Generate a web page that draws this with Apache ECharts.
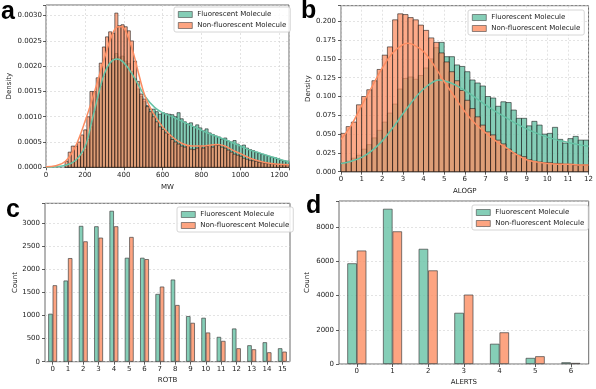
<!DOCTYPE html>
<html><head><meta charset="utf-8">
<script src="https://cdn.jsdelivr.net/npm/echarts@6/dist/echarts.min.js"></script>
<style>html,body{margin:0;padding:0;background:#fff}#c{width:596px;height:389px}</style>
</head><body><div id="c"></div>
<script>
const seriesNames = ['Fluorescent Molecule', 'Non-fluorescent Molecule'];

// Panel a: MW histogram (density)
const mwEdges = [98,114,130,146,162,178,194,210,226,242,258,274,290,306,322,338,354,370,386,402,418,434,450,466,482,498,514,530,546,562,578,594,610,626,642,658,674,690,706,722,738,754,770,786,802,818,834,850,866,882,898,914,930,946,962,978,994,1010,1026,1042,1058,1074,1090,1106,1122,1138,1154,1170,1186,1202,1218,1234,1250];
const mwFluor = [0.00005,0.00008,0.0001,0.00012,0.00015,0.00025,0.00035,0.00055,0.0008,0.0011,0.00135,0.0016,0.0018,0.00195,0.00205,0.00215,0.00225,0.00218,0.0022,0.0021,0.00205,0.0019,0.00175,0.00155,0.0014,0.0013,0.00122,0.00115,0.00115,0.0011,0.00105,0.00108,0.00106,0.00105,0.00104,0.001,0.00108,0.00096,0.0009,0.00086,0.00088,0.0008,0.00084,0.00078,0.00072,0.00076,0.00068,0.00065,0.00062,0.0006,0.00056,0.00058,0.00052,0.0005,0.00053,0.00046,0.00042,0.00044,0.00038,0.00035,0.00033,0.0003,0.00028,0.00026,0.00024,0.00022,0.0002,0.00019,0.00017,0.00014,0.00013,0.00012];
const mwNonFluor = [0.00012,0.0003,0.00042,0.00042,0.0005,0.00064,0.00074,0.001,0.0015,0.0015,0.00177,0.00206,0.00238,0.00258,0.00268,0.00265,0.00305,0.0028,0.00282,0.00278,0.0027,0.0025,0.0021,0.0017,0.00145,0.00135,0.0012,0.0011,0.001,0.0009,0.0008,0.00075,0.00068,0.00065,0.00055,0.0005,0.00046,0.00042,0.0004,0.00043,0.00036,0.00035,0.00038,0.00042,0.00038,0.00042,0.00043,0.0004,0.00044,0.00043,0.0004,0.00038,0.00034,0.0003,0.00026,0.00024,0.00022,0.00018,0.00016,0.00014,0.00013,0.00012,0.0001,0.00009,0.00008,0.00007,0.00007,0.00006,0.00006,0.00005,0.00005,0.00005];
const mwKdeFluorX = [0,50,100,150,200,235,270,300,330,365,400,450,510,560,600,650,700,750,800,850,900,950,1000,1050,1100,1150,1200,1250];
const mwKdeFluorY = [0,0.00001,0.00004,0.00013,0.0004,0.0009,0.00145,0.00185,0.00207,0.00214,0.00207,0.0018,0.0014,0.00118,0.00108,0.001,0.00091,0.00082,0.00073,0.00065,0.00058,0.0005,0.00042,0.00034,0.00028,0.00022,0.00016,0.00011];
const mwKdeNonX = [0,50,100,150,200,250,300,340,370,390,420,450,480,510,550,600,650,700,750,800,850,880,920,960,1000,1050,1100,1150,1200,1250];
const mwKdeNonY = [0.00001,0.00003,0.00012,0.0004,0.0009,0.0015,0.00215,0.00262,0.00278,0.00278,0.0026,0.00225,0.0018,0.0014,0.00108,0.0008,0.0006,0.00047,0.00042,0.00042,0.00044,0.00045,0.00042,0.00034,0.00027,0.00018,0.00012,0.00008,0.00006,0.00005];

// Panel b: ALOGP histogram (density)
const alogpEdges = [0,0.25,0.5,0.75,1,1.25,1.5,1.75,2,2.25,2.5,2.75,3,3.25,3.5,3.75,4,4.25,4.5,4.75,5,5.25,5.5,5.75,6,6.25,6.5,6.75,7,7.25,7.5,7.75,8,8.25,8.5,8.75,9,9.25,9.5,9.75,10,10.25,10.5,10.75,11,11.25,11.5,11.75,12];
const alogpFluor = [0.012,0.014,0.018,0.022,0.03,0.036,0.045,0.055,0.066,0.078,0.09,0.11,0.124,0.126,0.123,0.128,0.138,0.15,0.165,0.172,0.153,0.153,0.142,0.14,0.133,0.122,0.118,0.114,0.1,0.098,0.087,0.093,0.092,0.082,0.071,0.071,0.061,0.067,0.062,0.05,0.051,0.059,0.043,0.038,0.044,0.047,0.042,0.042];
const alogpNonFluor = [0.051,0.06,0.066,0.089,0.1,0.109,0.121,0.136,0.155,0.166,0.202,0.21,0.209,0.205,0.202,0.195,0.188,0.178,0.172,0.158,0.146,0.133,0.121,0.108,0.095,0.084,0.073,0.062,0.053,0.049,0.042,0.037,0.03,0.025,0.022,0.02,0.016,0.014,0.013,0.012,0.012,0.011,0.011,0.01,0.01,0.009,0.009,0.009];
const alogpKdeX = [0,0.5,1,1.5,2,2.5,3,3.25,3.5,4,4.5,4.75,5,5.5,6,6.5,7,7.5,8,8.5,9,9.5,10,10.5,11,11.5,12];
const alogpKdeFluorY = [0.011,0.014,0.019,0.028,0.041,0.058,0.077,0.086,0.095,0.11,0.12,0.122,0.121,0.116,0.108,0.099,0.089,0.08,0.072,0.064,0.057,0.051,0.046,0.042,0.039,0.036,0.034];
const alogpKdeNonY = [0.043,0.062,0.088,0.113,0.138,0.158,0.169,0.171,0.169,0.16,0.142,0.131,0.12,0.1,0.08,0.064,0.052,0.041,0.032,0.023,0.016,0.013,0.011,0.01,0.01,0.009,0.009];

// Panel c: ROTB counts
const rotbCats = ['0','1','2','3','4','5','6','7','8','9','10','11','12','13','14','15'];
const rotbFluor = [1036,1754,2935,2927,3261,2246,2246,1464,1775,985,949,536,717,355,420,290];
const rotbNonFluor = [1652,2239,2601,2681,2927,2696,2217,1623,1225,840,630,449,290,268,203,217];

// Panel d: ALERTS counts
const alertsCats = ['0','1','2','3','4','5','6'];
const alertsFluor = [5880,9063,6724,2988,1180,354,98];
const alertsNonFluor = [6625,7746,5465,4050,1848,452,60];

const GREEN = '#66c2a5', ORANGE = '#fc8d62';
const GREEN_F = 'rgba(102,194,165,0.8)', ORANGE_F = 'rgba(252,141,98,0.75)';
const GREEN_B = 'rgba(102,194,165,0.8)', ORANGE_B = 'rgba(252,141,98,0.8)';
const FONT = 'DejaVu Sans';
const TXT = '#222';

function histData(edges, vals) {
  return vals.map((v, i) => [edges[i], edges[i + 1], v]);
}
function histRender(fill) {
  return function (params, api) {
    const p0 = api.coord([api.value(0), api.value(2)]);
    const p1 = api.coord([api.value(1), 0]);
    return {
      type: 'rect',
      shape: { x: p0[0], y: p0[1], width: p1[0] - p0[0], height: p1[1] - p0[1] },
      style: { fill: fill, stroke: 'rgba(15,15,15,0.85)', lineWidth: 0.65 }
    };
  };
}
function zip(xs, ys) { return xs.map((x, i) => [x, ys[i]]); }

const lbl = { fontSize: 7, color: TXT, fontFamily: FONT };
const tick = { show: true, length: 3, lineStyle: { color: '#333', width: 0.8 } };
const split = { show: true, lineStyle: { color: '#d0d0d0', width: 0.6, type: [2, 2] } };
const nameStyle = { fontSize: 7, color: TXT, fontFamily: FONT };

function legend(left, top) {
  return {
    left: left, top: top, orient: 'vertical',
    itemWidth: 14, itemHeight: 6, itemGap: 4, padding: [4, 4, 3, 4],
    borderColor: '#ccc', borderWidth: 0.8, borderRadius: 2,
    backgroundColor: 'rgba(255,255,255,0.85)',
    textStyle: { fontSize: 7, color: TXT, fontFamily: FONT },
    selectedMode: false,
    data: [
      { name: seriesNames[0], icon: 'rect', itemStyle: { color: GREEN_B, borderColor: '#444', borderWidth: 0.6 } },
      { name: seriesNames[1], icon: 'rect', itemStyle: { color: ORANGE_B, borderColor: '#444', borderWidth: 0.6 } }
    ]
  };
}
function fmtEvery(step, digits) {
  return function (v) {
    const r = v / step;
    return Math.abs(r - Math.round(r)) < 1e-6 ? v.toFixed(digits) : '';
  };
}

const option = {
  animation: false,
  backgroundColor: '#fff',
  textStyle: { fontFamily: FONT },
  grid: [
    { left: 46, top: 5, width: 243, height: 162.3, show: true, borderColor: '#444', borderWidth: 0.8 },
    { left: 341, top: 5.7, width: 249, height: 166, show: true, borderColor: '#444', borderWidth: 0.8 },
    { left: 45, top: 203.3, width: 245, height: 158.4, show: true, borderColor: '#444', borderWidth: 0.8 },
    { left: 339, top: 201, width: 249.7, height: 163, show: true, borderColor: '#444', borderWidth: 0.8 }
  ],
  xAxis: [
    { gridIndex: 0, type: 'value', min: 0, max: 1250, interval: 200, axisLine: { show: false }, axisTick: tick,
      axisLabel: Object.assign({ margin: 4, formatter: fmtEvery(200, 0) }, lbl), splitLine: split,
      name: 'MW', nameLocation: 'middle', nameGap: 16, nameTextStyle: nameStyle },
    { gridIndex: 1, type: 'value', min: 0, max: 12, interval: 1, axisLine: { show: false }, axisTick: tick,
      axisLabel: Object.assign({ margin: 4 }, lbl), splitLine: split,
      name: 'ALOGP', nameLocation: 'middle', nameGap: 16, nameTextStyle: nameStyle },
    { gridIndex: 2, type: 'category', data: rotbCats, axisLine: { show: false },
      axisTick: Object.assign({ alignWithLabel: true }, tick),
      axisLabel: Object.assign({ margin: 4, interval: 0 }, lbl), splitLine: { show: false },
      name: 'ROTB', nameLocation: 'middle', nameGap: 15, nameTextStyle: nameStyle },
    { gridIndex: 3, type: 'category', data: alertsCats, axisLine: { show: false },
      axisTick: Object.assign({ alignWithLabel: true }, tick),
      axisLabel: Object.assign({ margin: 4 }, lbl), splitLine: { show: false },
      name: 'ALERTS', nameLocation: 'middle', nameGap: 15, nameTextStyle: nameStyle }
  ],
  yAxis: [
    { gridIndex: 0, type: 'value', min: 0, max: 0.00321, interval: 0.0005, axisLine: { show: false }, axisTick: tick,
      axisLabel: Object.assign({ margin: 4, formatter: fmtEvery(0.0005, 4) }, lbl), splitLine: split,
      name: 'Density', nameLocation: 'middle', nameGap: 33, nameTextStyle: nameStyle },
    { gridIndex: 1, type: 'value', min: 0, max: 0.2208, interval: 0.025, axisLine: { show: false }, axisTick: tick,
      axisLabel: Object.assign({ margin: 5, formatter: fmtEvery(0.025, 3) }, lbl), splitLine: split,
      name: 'Density', nameLocation: 'middle', nameGap: 29, nameTextStyle: nameStyle },
    { gridIndex: 2, type: 'value', min: 0, max: 3424, interval: 500, axisLine: { show: false }, axisTick: tick,
      axisLabel: Object.assign({ margin: 5, formatter: fmtEvery(500, 0) }, lbl), splitLine: split,
      name: 'Count', nameLocation: 'middle', nameGap: 26, nameTextStyle: nameStyle },
    { gridIndex: 3, type: 'value', min: 0, max: 9520, interval: 2000, axisLine: { show: false }, axisTick: tick,
      axisLabel: Object.assign({ margin: 5, formatter: fmtEvery(2000, 0) }, lbl), splitLine: split,
      name: 'Count', nameLocation: 'middle', nameGap: 28, nameTextStyle: nameStyle }
  ],
  legend: [legend(174, 7), legend(468, 10), legend(177, 207), legend(472, 205)],
  series: [
    { name: seriesNames[0], type: 'custom', xAxisIndex: 0, yAxisIndex: 0, renderItem: histRender(GREEN_F),
      data: histData(mwEdges, mwFluor), encode: { x: [0, 1], y: 2 }, itemStyle: { color: GREEN_B }, z: 2 },
    { name: seriesNames[1], type: 'custom', xAxisIndex: 0, yAxisIndex: 0, renderItem: histRender(ORANGE_F),
      data: histData(mwEdges, mwNonFluor), encode: { x: [0, 1], y: 2 }, itemStyle: { color: ORANGE_B }, z: 3 },
    { name: 'kde-a-f', type: 'line', xAxisIndex: 0, yAxisIndex: 0, data: zip(mwKdeFluorX, mwKdeFluorY),
      smooth: 0.4, showSymbol: false, lineStyle: { color: GREEN, width: 1.5 }, z: 5 },
    { name: 'kde-a-n', type: 'line', xAxisIndex: 0, yAxisIndex: 0, data: zip(mwKdeNonX, mwKdeNonY),
      smooth: 0.4, showSymbol: false, lineStyle: { color: ORANGE, width: 1.5 }, z: 5 },

    { name: seriesNames[0], type: 'custom', xAxisIndex: 1, yAxisIndex: 1, renderItem: histRender(GREEN_F),
      data: histData(alogpEdges, alogpFluor), encode: { x: [0, 1], y: 2 }, itemStyle: { color: GREEN_B }, z: 2 },
    { name: seriesNames[1], type: 'custom', xAxisIndex: 1, yAxisIndex: 1, renderItem: histRender(ORANGE_F),
      data: histData(alogpEdges, alogpNonFluor), encode: { x: [0, 1], y: 2 }, itemStyle: { color: ORANGE_B }, z: 3 },
    { name: 'kde-b-f', type: 'line', xAxisIndex: 1, yAxisIndex: 1, data: zip(alogpKdeX, alogpKdeFluorY),
      smooth: 0.4, showSymbol: false, lineStyle: { color: GREEN, width: 1.5 }, z: 5 },
    { name: 'kde-b-n', type: 'line', xAxisIndex: 1, yAxisIndex: 1, data: zip(alogpKdeX, alogpKdeNonY),
      smooth: 0.4, showSymbol: false, lineStyle: { color: ORANGE, width: 1.5 }, z: 5 },

    { name: seriesNames[0], type: 'bar', xAxisIndex: 2, yAxisIndex: 2, data: rotbFluor, barWidth: 4.4, barGap: '0%',
      itemStyle: { color: GREEN_B, borderColor: '#444', borderWidth: 0.7 } },
    { name: seriesNames[1], type: 'bar', xAxisIndex: 2, yAxisIndex: 2, data: rotbNonFluor, barWidth: 4.4, barGap: '0%',
      itemStyle: { color: ORANGE_B, borderColor: '#444', borderWidth: 0.7 } },

    { name: seriesNames[0], type: 'bar', xAxisIndex: 3, yAxisIndex: 3, data: alertsFluor, barWidth: 9.5, barGap: '0%',
      itemStyle: { color: GREEN_B, borderColor: '#444', borderWidth: 0.7 } },
    { name: seriesNames[1], type: 'bar', xAxisIndex: 3, yAxisIndex: 3, data: alertsNonFluor, barWidth: 9.5, barGap: '0%',
      itemStyle: { color: ORANGE_B, borderColor: '#444', borderWidth: 0.7 } }
  ],
  graphic: [
    { type: 'text', left: 1, top: 0, style: { text: 'a', font: 'bold 25px "Liberation Sans", Arial, sans-serif', fill: '#000' } },
    { type: 'text', left: 301, top: -1, style: { text: 'b', font: 'bold 25px "Liberation Sans", Arial, sans-serif', fill: '#000' } },
    { type: 'text', left: 6, top: 198, style: { text: 'c', font: 'bold 25px "Liberation Sans", Arial, sans-serif', fill: '#000' } },
    { type: 'text', left: 306, top: 194, style: { text: 'd', font: 'bold 25px "Liberation Sans", Arial, sans-serif', fill: '#000' } }
  ]
};

const chart = echarts.init(document.getElementById('c'), null, { renderer: 'canvas', width: 596, height: 389 });
chart.setOption(option);
</script>
</body></html>
